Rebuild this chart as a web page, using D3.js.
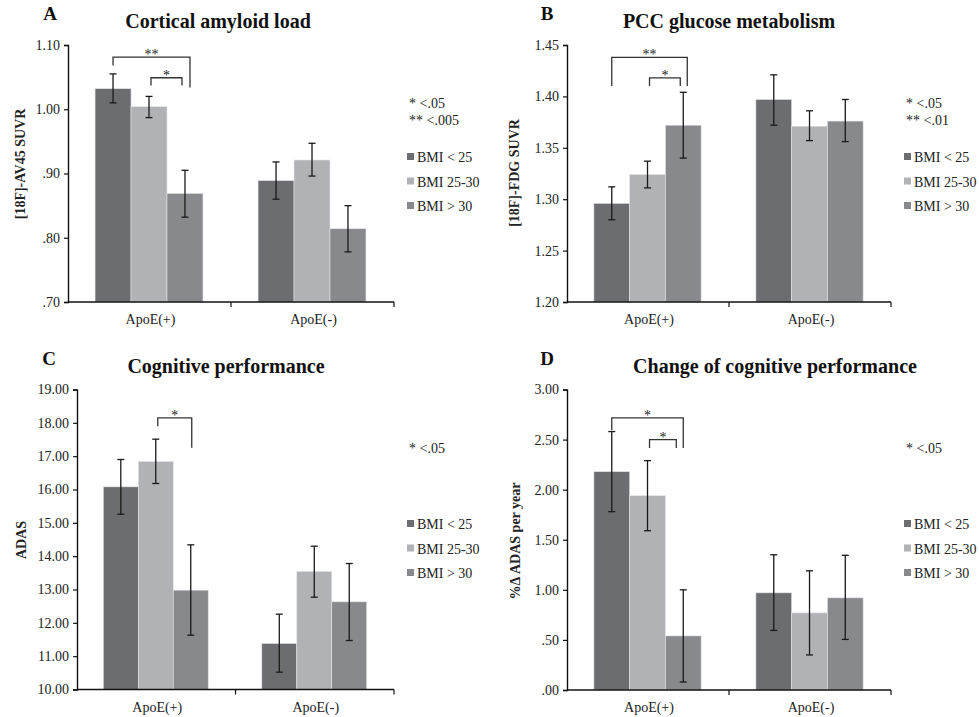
<!DOCTYPE html>
<html>
<head>
<meta charset="utf-8">
<script src="https://cdn.jsdelivr.net/npm/d3@7"></script>
<style>
  body { margin: 0; background: #fff; }
  svg text { font-family: "Liberation Serif", "Times New Roman", serif; }
</style>
</head>
<body>
<svg id="chart" width="979" height="717"></svg>
<script>
let groups = ["ApoE(+)", "ApoE(-)"];
let bmiLabels = ["BMI < 25", "BMI 25-30", "BMI > 30"];
let bmiColors = ["#6c6d71", "#b1b2b6", "#88898d"];

// A: cortical amyloid load
let amyloidMean = [[1.032, 1.004, 0.869], [0.889, 0.921, 0.814]];
let amyloidLow  = [[1.010, 0.987, 0.832], [0.860, 0.896, 0.778]];
let amyloidHigh = [[1.055, 1.020, 0.905], [0.918, 0.947, 0.850]];
let amyloidTicks = [0.70, 0.80, 0.90, 1.00, 1.10];
let amyloidStats = ["* <.05", "** <.005"];

// B: PCC glucose metabolism
let fdgMean = [[1.296, 1.324, 1.372], [1.397, 1.371, 1.376]];
let fdgLow  = [[1.280, 1.311, 1.340], [1.372, 1.357, 1.356]];
let fdgHigh = [[1.312, 1.337, 1.404], [1.421, 1.386, 1.397]];
let fdgTicks = [1.20, 1.25, 1.30, 1.35, 1.40, 1.45];
let fdgStats = ["* <.05", "** <.01"];

// C: ADAS
let adasMean = [[16.08, 16.84, 12.98], [11.38, 13.54, 12.63]];
let adasLow  = [[15.26, 16.18, 11.63], [10.52, 12.77, 11.47]];
let adasHigh = [[16.90, 17.51, 14.34], [12.26, 14.30, 13.78]];
let adasTicks = [10, 11, 12, 13, 14, 15, 16, 17, 18, 19];
let adasStats = ["* <.05"];

// D: change of ADAS
let changeMean = [[2.18, 1.94, 0.54], [0.97, 0.77, 0.92]];
let changeLow  = [[1.78, 1.59, 0.08], [0.595, 0.35, 0.505]];
let changeHigh = [[2.58, 2.29, 1.00], [1.35, 1.19, 1.345]];
let changeTicks = [0, 0.5, 1, 1.5, 2, 2.5, 3];
let changeStats = ["* <.05"];

// significance brackets: bars a..b within ApoE(+), bracket top and leg ends in data units
let amyloidSig = [
  { a: 0, b: 2, top: 1.081, legA: 1.068, legB: 1.034, text: "**", dx: 5 },
  { a: 1, b: 2, top: 1.049, legA: 1.037, legB: 1.037, text: "*", dx: -3 }
];
let fdgSig = [
  { a: 0, b: 2, top: 1.438, legA: 1.410, legB: 1.410, text: "**", dx: 4 },
  { a: 1, b: 2, top: 1.418, legA: 1.410, legB: 1.410, text: "*", dx: -3 }
];
let adasSig = [
  { a: 1, b: 2, top: 18.15, legA: 17.90, legB: 17.25, text: "*", dx: 1 }
];
let changeSig = [
  { a: 0, b: 2, top: 2.717, legA: 2.594, legB: 2.417, text: "*", dx: 0 },
  { a: 1, b: 2, top: 2.50, legA: 2.417, legB: 2.417, text: "*", dx: -7 }
];

let serif = "Liberation Serif, Times New Roman, serif";
let svg = d3.select("#chart");

function fmt(v) {
  let s = d3.format(".2f")(v);
  return s.startsWith("0.") ? s.slice(1) : s;
}

function drawPanel(p) {
  let g = svg.append("g").attr("font-family", serif);
  let y = d3.scaleLinear().domain([p.ticks[0], p.ticks[p.ticks.length - 1]]).range([p.bottom, p.top]);
  let x0 = d3.scaleBand().domain(groups).range([p.left, p.right]);
  let bw = x0.bandwidth();
  let x1 = d3.scaleBand().domain(d3.range(bmiLabels.length)).range([bw * 0.166, bw * 0.828]);

  // bars
  groups.forEach((grp, gi) => {
    let bars = g.append("g").attr("transform", "translate(" + x0(grp) + ",0)");
    bars.selectAll("rect").data(p.mean[gi]).enter()
      .append("rect")
      .attr("x", (d, i) => x1(i))
      .attr("width", x1.bandwidth())
      .attr("y", d => y(d))
      .attr("height", d => y(p.ticks[0]) - y(d))
      .attr("fill", (d, i) => bmiColors[i])
      .attr("stroke", "#e4e4e6")
      .attr("stroke-width", 0.6);

    let err = bars.selectAll(".err").data(p.mean[gi].map((m, i) => i)).enter()
      .append("g").attr("class", "err")
      .attr("stroke", "#1a1a1a").attr("stroke-width", 1.3);
    let cx = i => x1(i) + x1.bandwidth() / 2;
    err.append("line")
      .attr("x1", cx).attr("x2", cx)
      .attr("y1", i => y(p.low[gi][i])).attr("y2", i => y(p.high[gi][i]));
    err.append("line")
      .attr("x1", i => cx(i) - 3.5).attr("x2", i => cx(i) + 3.5)
      .attr("y1", i => y(p.low[gi][i])).attr("y2", i => y(p.low[gi][i]));
    err.append("line")
      .attr("x1", i => cx(i) - 3.5).attr("x2", i => cx(i) + 3.5)
      .attr("y1", i => y(p.high[gi][i])).attr("y2", i => y(p.high[gi][i]));
  });

  // y axis
  let yAxis = d3.axisLeft(y).tickValues(p.ticks).tickFormat(fmt).tickSize(4).tickPadding(4);
  let ya = g.append("g").attr("transform", "translate(" + p.left + ",0)").call(yAxis)
    .attr("font-family", serif).attr("font-size", 14);
  ya.select(".domain").attr("stroke", "#111").attr("stroke-width", 1.4);
  ya.selectAll(".tick line").attr("stroke", "#111").attr("stroke-width", 1.2);
  ya.selectAll("text").attr("fill", "#222");

  // x axis
  let xa = g.append("g").attr("transform", "translate(0," + p.bottom + ")");
  xa.append("line").attr("x1", p.left).attr("x2", p.right).attr("stroke", "#111").attr("stroke-width", 1.4);
  [x0(groups[1]), p.right].forEach(v => {
    xa.append("line").attr("x1", v).attr("x2", v).attr("y1", 0).attr("y2", 5)
      .attr("stroke", "#111").attr("stroke-width", 1.2);
  });
  xa.selectAll(".cat").data(groups).enter().append("text")
    .attr("x", d => x0(d) + bw / 2 + 1)
    .attr("y", 22)
    .attr("text-anchor", "middle")
    .attr("font-size", 14).attr("fill", "#222")
    .text(d => d);

  // y label
  g.append("text")
    .attr("transform", "translate(" + p.labelX + "," + p.labelY + ") rotate(-90)")
    .attr("text-anchor", "middle").attr("dy", "0.35em")
    .attr("font-weight", "bold").attr("font-size", 14).attr("fill", "#222")
    .text(p.yLabel);

  // titles
  g.append("text").attr("x", p.titleX).attr("y", p.top - 17)
    .attr("text-anchor", "middle").attr("font-weight", "bold").attr("font-size", 20).attr("fill", "#111")
    .text(p.title);
  g.append("text").attr("x", p.letterX).attr("y", p.top - 25)
    .attr("text-anchor", "middle").attr("font-weight", "bold").attr("font-size", 19).attr("fill", "#111")
    .text(p.letter);

  // significance brackets
  let gx = x0(groups[0]);
  p.sig.forEach(s => {
    let xa1 = gx + x1(s.a) + x1.bandwidth() / 2;
    let xb1 = gx + x1(s.b) + x1.bandwidth() / 2 + s.dx;
    if (s.a === 1) xa1 += 2;
    g.append("path")
      .attr("d", "M" + xa1 + "," + y(s.legA) + "V" + y(s.top) + "H" + xb1 + "V" + y(s.legB))
      .attr("fill", "none").attr("stroke", "#333").attr("stroke-width", 1.3);
    g.append("text").attr("x", (xa1 + xb1) / 2).attr("y", y(s.top) + 2)
      .attr("text-anchor", "middle").attr("font-size", 14).attr("fill", "#222")
      .text(s.text);
  });

  // stats note
  p.stats.forEach((t, i) => {
    g.append("text").attr("x", p.right + 15).attr("y", p.top + 63 + i * 17)
      .attr("font-size", 14).attr("fill", "#222").text(t);
  });

  // legend
  let leg = g.selectAll(".leg").data(bmiLabels).enter().append("g")
    .attr("transform", (d, i) => "translate(" + (p.right + 13) + "," + (p.legendY + i * 24.5) + ")");
  leg.append("rect").attr("x", 0).attr("y", -4).attr("width", 7).attr("height", 7)
    .attr("fill", (d, i) => bmiColors[i]);
  leg.append("text").attr("x", 10).attr("y", 5)
    .attr("font-size", 14).attr("fill", "#222").text(d => d);
}

drawPanel({ mean: amyloidMean, low: amyloidLow, high: amyloidHigh, ticks: amyloidTicks, stats: amyloidStats, sig: amyloidSig,
  left: 68, right: 394, top: 45, bottom: 302, title: "Cortical amyloid load", titleX: 218, letter: "A", letterX: 50,
  yLabel: "[18F]-AV45 SUVR", labelX: 20, labelY: 164, legendY: 157 });
drawPanel({ mean: fdgMean, low: fdgLow, high: fdgHigh, ticks: fdgTicks, stats: fdgStats, sig: fdgSig,
  left: 567, right: 891, top: 45, bottom: 302, title: "PCC glucose metabolism", titleX: 729, letter: "B", letterX: 547,
  yLabel: "[18F]-FDG SUVR", labelX: 514, labelY: 173, legendY: 157 });
drawPanel({ mean: adasMean, low: adasLow, high: adasHigh, ticks: adasTicks, stats: adasStats, sig: adasSig,
  left: 77, right: 394, top: 389.5, bottom: 689.5, title: "Cognitive performance", titleX: 226, letter: "C", letterX: 49,
  yLabel: "ADAS", labelX: 21, labelY: 540, legendY: 524 });
drawPanel({ mean: changeMean, low: changeLow, high: changeHigh, ticks: changeTicks, stats: changeStats, sig: changeSig,
  left: 567, right: 891, top: 389.5, bottom: 690, title: "Change of cognitive performance", titleX: 775, letter: "D", letterX: 547,
  yLabel: "%Δ ADAS per year", labelX: 515, labelY: 541, legendY: 524 });
</script>
</body>
</html>
